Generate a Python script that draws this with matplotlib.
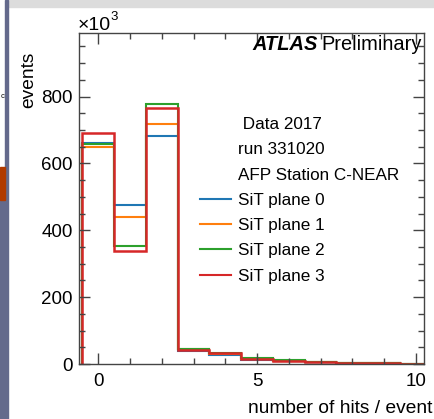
import matplotlib
matplotlib.use("Agg")
import matplotlib.pyplot as plt
from matplotlib.patches import Rectangle
from matplotlib.lines import Line2D
from matplotlib.ticker import MultipleLocator
import numpy as np

plt.rcParams['font.family'] = ['Liberation Sans', 'DejaVu Sans']

# hits per event, bins 0..10
hits = np.arange(0, 11)
plane0 = [662, 477, 682, 40, 27, 12, 8, 5, 3, 2, 1]
plane1 = [650, 441, 718, 44, 30, 15, 9, 5, 4, 2, 1]
plane2 = [659, 352, 778, 46, 32, 19, 12, 6, 4, 2, 1]
plane3 = [690, 338, 766, 43, 34, 16, 10, 6, 4, 2, 1]
series = [plane0, plane1, plane2, plane3]
labels = ["SiT plane 0", "SiT plane 1", "SiT plane 2", "SiT plane 3"]
colors = ["#1f77b4", "#ff7f0e", "#2ca02c", "#d62728"]
header = [" Data 2017", "run 331020", "AFP Station C-NEAR"]

W, H = 434, 419
fig = plt.figure(figsize=(W / 100, H / 100), dpi=100)

def fx(px):
    return px / W

def fy(py):
    return 1 - py / H

ax = fig.add_axes([fx(79), fy(364), fx(424) - fx(79), fy(33) - fy(364)])

edges = np.append(hits - 0.5, hits[-1] + 0.5)
handles = []
for vals, lab, c in zip(series, labels, colors):
    lw = 1.8 if c == "#d62728" else 1.5
    ax.stairs(vals, edges, baseline=0, color=c, lw=lw, label=lab)
    handles.append(Line2D([], [], color=c, lw=1.5))

ax.set_xlim(-0.608, 10.26)
ax.set_ylim(0, 990)

ax.xaxis.set_major_locator(MultipleLocator(5))
ax.xaxis.set_minor_locator(MultipleLocator(1))
ax.yaxis.set_major_locator(MultipleLocator(200))
ax.yaxis.set_minor_locator(MultipleLocator(50))
ax.tick_params(which="both", direction="in", top=True, right=True,
               colors="#444444", labelcolor="black", labelsize=13.5)
ax.tick_params(which="major", length=8, width=1)
ax.tick_params(which="minor", length=4.5, width=1)
ax.tick_params(axis="x", pad=6.5)
ax.tick_params(axis="y", pad=4.5)
for s in ax.spines.values():
    s.set_color("#444444")
    s.set_linewidth(1.0)

blank = [Line2D([], [], color="none") for _ in header]
leg = fig.legend(blank + handles, header + labels, loc="upper left",
                 bbox_to_anchor=(fx(200), fy(117)), frameon=False,
                 fontsize=12.3, borderpad=0, borderaxespad=0,
                 handlelength=1.8, handletextpad=0.4, labelspacing=0.6)

fig.text(fx(422), fy(44), "Preliminary", fontsize=14.4, ha="right", va="center")
fig.text(fx(318), fy(44), "ATLAS", fontsize=14.4, ha="right", va="center",
         fontweight="bold", fontstyle="italic")

fig.text(fx(78), fy(30), "×10", fontsize=14, ha="left", va="baseline")
fig.text(fx(110), fy(20), "3", fontsize=9.5, ha="left", va="baseline")
fig.text(fx(29), fy(52), "events", fontsize=13.8, rotation=90, ha="center", va="top")
fig.text(fx(432), fy(408), "number of hits / event", fontsize=13.8, ha="right", va="center")

# screenshot edges around the crop
fig.patches.append(Rectangle((fx(8), fy(7)), 1, 7 / H, transform=fig.transFigure,
                             color="#dcdcdc", zorder=0))
fig.patches.append(Rectangle((fx(5), 0), 3 / W, 1, transform=fig.transFigure,
                             color="#646a8c", zorder=0))
fig.patches.append(Rectangle((0, 0), 5 / W, fy(200), transform=fig.transFigure,
                             color="#646a8c", zorder=0))
fig.patches.append(Rectangle((0, fy(200)), 5 / W, 33 / H, transform=fig.transFigure,
                             color="#b03a00", zorder=0))
fig.text(fx(0.5), fy(97), "c", fontsize=5.5, ha="left", va="center")

fig.savefig("out.png", dpi=100)
